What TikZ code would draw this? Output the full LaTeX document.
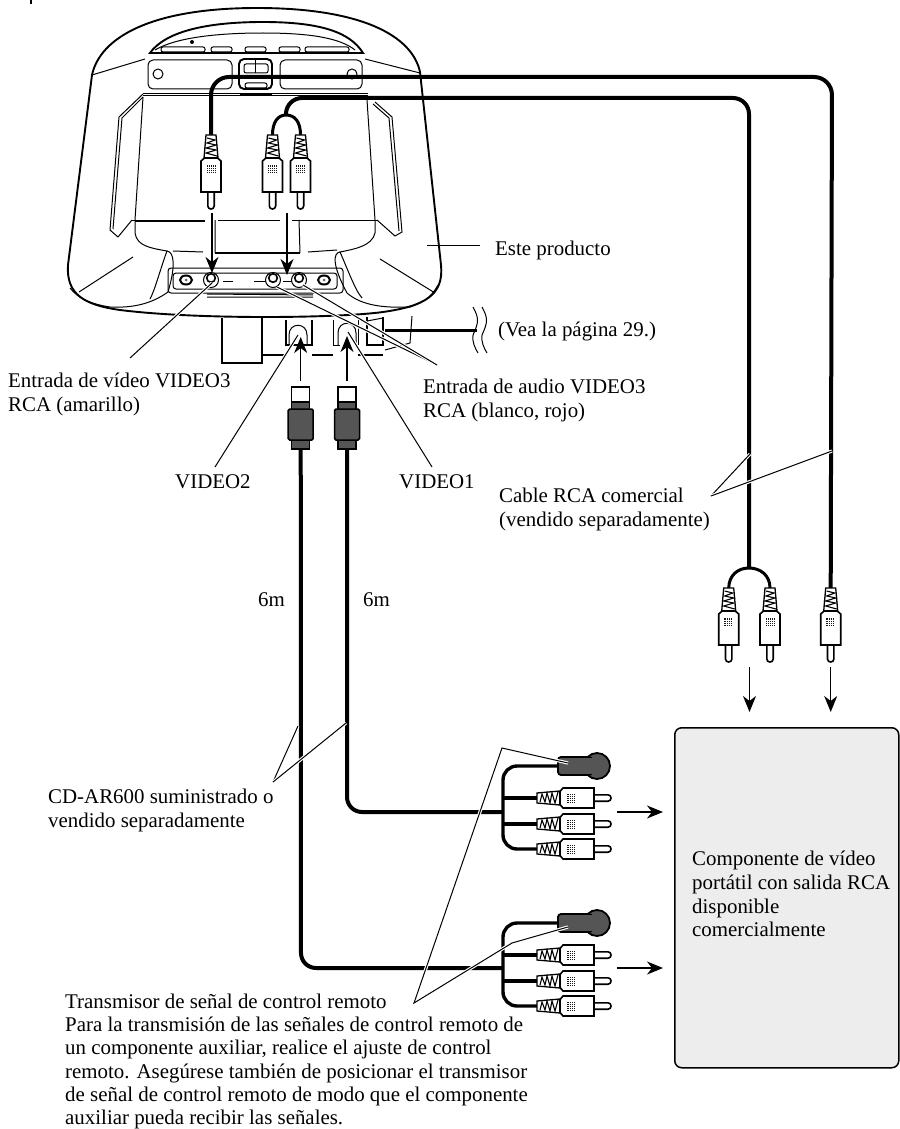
\documentclass[tikz,border=0pt]{standalone}
\usepackage{fontspec}
\setmainfont{Liberation Serif}
\usetikzlibrary{arrows.meta}
\definecolor{plugdark}{HTML}{555555}
\definecolor{boxgrey}{HTML}{EDEDED}
\begin{document}
\begin{tikzpicture}[x=1pt,y=-1pt,
  lbl/.style={anchor=north west, inner sep=0pt, align=left, font=\fontsize{20.9}{23.8}\selectfont},
  cable/.style={line width=4pt},
  fanwire/.style={line width=3.4pt, rounded corners=14pt},
  dev/.style={line width=1pt},
  devheavy/.style={line width=1.9pt},
  leader/.style={line width=1pt, preaction={draw=white, line width=3.2pt}},
  arrowline/.style={line width=1.2pt, -{Stealth[length=16pt,width=13pt,inset=5pt]}},
  rcaplug/.pic={
    \draw[line width=1.3pt, fill=white] (-5,0) -- (5,0) -- (7,23) -- (-7,23) -- cycle;
    \draw[line width=1.1pt] (-4,3) -- (4,5) -- (-4,8) -- (5,10) -- (-5,13) -- (5,15) -- (-5,18) -- (6,21);
    \draw[line width=1.6pt, fill=white] (-3.2,57) -- (-3.2,71) .. controls (-3.2,75) and (3.2,75) .. (3.2,71) -- (3.2,57);
    \draw[line width=1.6pt, fill=white] (-6.5,23) -- (-10,26) -- (-10,57) -- (10,57) -- (10,26) -- (6.5,23) -- cycle;
    \fill[black!90] (-4.5,30) rectangle (4.5,38);
    \foreach \gx in {-3,-1,1,3} {\draw[white, line width=.25pt] (\gx,30) -- (\gx,38);}
    \foreach \gy in {32,34,36} {\draw[white, line width=.25pt] (-4.5,\gy) -- (4.5,\gy);}
  },
  videoplug/.pic={
    \draw[line width=1.5pt, fill=white] (-9,0) rectangle (9,15);
    \draw[line width=1.5pt, fill=plugdark] (-9,15) rectangle (9,62);
    \draw[line width=1.5pt, fill=plugdark, rounded corners=1.5pt] (-12.5,22) rectangle (12.5,53);
  },
  emitter/.pic={
    \draw[line width=1.8pt, fill=plugdark] (39,0) circle[radius=13];
    \draw[line width=1.8pt, fill=plugdark, rounded corners=3pt] (0,-9) rectangle (34,9);
    \fill[plugdark] (29,-8) rectangle (38,8);
  }]
\useasboundingbox (0,0) rectangle (899,1129);
\fill[white] (0,0) rectangle (899,1129);
\draw[line width=2pt] (30.5,0) -- (30.5,4);

\draw[devheavy, fill=white] (92,75) .. controls (100,38) and (150,8) .. (257,8)
  .. controls (360,8) and (412,35) .. (420,72) -- (441,265)
  .. controls (444,295) and (425,306) .. (383,312)
  .. controls (340,318) and (200,320) .. (120,310)
  .. controls (85,305) and (66,295) .. (68,265) -- cycle;
\draw[dev] (92,75) -- (145,59) (365,59) -- (420,73);
\draw[devheavy] (150,53) .. controls (165,32) and (205,22) .. (263,22) .. controls (320,22) and (350,32) .. (363,53) -- cycle;
\draw[dev] (155,50) .. controls (175,38) and (215,33) .. (263,33) .. controls (310,33) and (340,38) .. (355,50);
\foreach \bx/\bw in {161/44,211/21,245/21,279/21,305/44} {
  \draw[dev, rounded corners=2pt] (\bx,47) rectangle ++(\bw,5);}
\fill (192,42) circle[radius=2];
\draw[dev, rounded corners=5pt] (148,60) rectangle (232,89) (280,60) rectangle (362,89);
\draw[devheavy, rounded corners=5pt] (239,59) rectangle (272,89);
\draw[dev, rounded corners=2pt] (244,64) rectangle (268,73) (245,83) rectangle (267,88);
\draw[dev] (255,58) -- (255,73);
\draw[dev] (158,74) circle[radius=5] (352,74) circle[radius=5];
\draw[dev] (143,94) -- (368,94) (143,96) -- (368,96);
\draw[devheavy] (240,95) -- (272,95);
\draw[dev] (143,94) -- (119,117) -- (110,230) -- (118,237) -- (132,220);
\draw[dev] (143,97) -- (122,118) -- (113,229);
\draw[dev] (375,102) -- (392,117) -- (402,232) -- (395,236) -- (377,220);
\draw[dev] (373,104) -- (389,118) -- (399,231);
\draw[dev] (143,97) -- (135,220) (367,100) -- (375,220);
\draw[dev] (132,220) -- (205,220) (218,220) -- (280,220) (292,220) -- (377,220);
\draw[dev] (135,221) -- (205,221);
\draw[dev] (135,220) -- (135,233) .. controls (137,246) and (150,248) .. (167,251) .. controls (160,270) and (155,290) .. (150,299);
\draw[dev] (375,220) -- (375,233) .. controls (372,246) and (355,249) .. (340,252) .. controls (348,270) and (355,290) .. (362,298);
\draw[dev] (167,251) .. controls (174,252) and (176,265) .. (168,292) .. controls (150,305) and (130,308) .. (110,307) .. controls (90,304) and (78,298) .. (70,288);
\draw[dev] (340,252) .. controls (333,253) and (332,265) .. (347,293) .. controls (362,306) and (385,308) .. (410,307) .. controls (425,302) and (432,296) .. (438,285);
\draw[dev] (79,292) -- (133,257) (380,259) -- (435,293);
\draw[dev] (173,251) -- (203,252) (308,252) -- (337,250);
\draw[dev] (215,220) -- (215,253) (299,220) -- (300,253);
\draw[devheavy] (215,253) -- (300,253);
\draw[dev, rounded corners=3pt] (168,268) rectangle (343,293);
\draw[dev, rounded corners=3pt] (173,273) rectangle (337,289);
\draw[dev] (207,294) -- (313,295) (207,297) -- (313,297);
\draw[dev] (223,281) -- (233,281) (254,281) -- (266,281) (283,281) -- (293,281);
\foreach \jx in {186,324} {
  \draw[line width=2pt, fill=white] (\jx,280) circle[x radius=6, y radius=4.5];
  \fill[black!60] (\jx,280) circle[radius=1.5];}
\foreach \jx in {211,273,299} {
  \draw[dev, fill=white] (\jx,280) circle[radius=7.5];
  \draw[line width=1.6pt] (\jx,278) circle[radius=4.3];}
\draw[devheavy, fill=white] (222,318) -- (222,363) -- (262,363) -- (262,318);
\draw[devheavy] (262,355) -- (286,355) (312,355) -- (333,355) (358,355) -- (383,355);
\draw[devheavy] (286,320) -- (286,345) -- (312,345) -- (312,320);
\draw[dev] (333,320) -- (333,345) -- (340,345) (358,320) -- (358,345);
\draw[dev] (289,345) -- (289,335) .. controls (289,322) and (307,322) .. (307,335) -- (307,345);
\draw[dev] (338,345) -- (338,333) .. controls (338,320) and (356,320) .. (356,333) -- (356,345);
\draw[devheavy] (367,317) -- (367,345) -- (383,345) -- (383,317);
\draw[dev] (367,321) -- (383,318);
\draw[dev] (412,316) -- (410,343) -- (385,350);

\foreach \name/\px/\py in {plugya/211/135,plugyb/272.5/135,plugyc/300.5/135,
    plugra/728.7/588,plugrb/770/588,plugrc/830.7/588,
    plugfa/537/798,plugfb/537/824,plugfc/537/849,
    plugga/537/955,pluggb/537/981,pluggc/537/1006,
    svida/300.7/387,svidb/347/387,emita/558/766,emitb/558/923,
    tapyl/286/115,tapyr/749/568} {
  \coordinate (\name) at (\px,\py);}
\draw[cable, rounded corners=18pt] (plugya) |- (832,77) -- (plugrc);
\draw[cable, rounded corners=16pt] (tapyl) |- (749,98) -- (tapyr);
\draw[line width=3pt] (plugyb) .. controls (272.5,122) and (278,115) .. (tapyl);
\draw[line width=3pt] (plugyc) .. controls (300.5,122) and (295,115) .. (tapyl);
\draw[line width=3pt] (plugra) .. controls (729,575) and (738,568) .. (tapyr);
\draw[line width=3pt] (plugrb) .. controls (770,575) and (760,568) .. (tapyr);

\draw[cable, rounded corners=15pt] (svidb) -- (347,812) -- (503,812);
\draw[cable, rounded corners=15pt] (svida) -- (301,968) -- (503,968);
\draw[fanwire] (emita) -- (503,766) -- (503,849) -- (plugfc);
\draw[fanwire] (emitb) -- (503,923) -- (503,1006) -- (pluggc);
\foreach \wire/\wy in {plugfa/798,plugfb/824,plugga/955,pluggb/981} {
  \draw[line width=3.4pt] (503,\wy) -- (\wire);}

\foreach \pn in {plugya,plugyb,plugyc,plugra,plugrb,plugrc} {
  \pic at (\pn) {rcaplug};}
\foreach \pn in {plugfa,plugfb,plugfc,plugga,pluggb,pluggc} {
  \pic[rotate=90] at (\pn) {rcaplug};}
\foreach \pn in {svida,svidb} {
  \pic at (\pn) {videoplug};}
\foreach \pn in {emita,emitb} {
  \pic at (\pn) {emitter};}

\foreach \name/\px/\py in {downa/212/213,downb/287/213,enda/212/273,endb/287/275,
    upa/300.7/381,upb/347/381,tipa/300.7/337,tipb/347/336,
    downc/749.5/667,downd/830.7/667,endc/749.5/712,endd/830.7/712,
    righta/617/812,rightb/617/968,tipc/663/812,tipd/663/968} {
  \coordinate (\name) at (\px,\py);}
\foreach \src/\dst in {downa/enda,downb/endb,upa/tipa,upb/tipb,downc/endc,downd/endd,
    righta/tipc,rightb/tipd} {
  \draw[arrowline] (\src) -- (\dst);}

\node[draw, line width=1.5pt, fill=boxgrey, rounded corners=7pt, minimum width=224pt,
      minimum height=340pt, anchor=north west] (portable) at (674,727) {};
\node[lbl, anchor=north west] (portabletxt) at (692,850.8)
  {Componente de vídeo\\portátil con salida RCA\\disponible\\comercialmente};

\node[lbl] (product) at (495,240.8) {Este producto};
\node[lbl] (pageref) at (498,321.8) {(Vea la página 29.)};
\node[lbl] (vidin) at (8,372.8) {Entrada de vídeo VIDEO3\\RCA (amarillo)};
\node[lbl] (audin) at (423,378.8) {Entrada de audio VIDEO3\\RCA (blanco, rojo)};
\node[lbl] (vidtwo) at (175,474) {VIDEO2};
\node[lbl] (vidone) at (399,474.5) {VIDEO1};
\node[lbl] (rcacable) at (499,487.8) {Cable RCA comercial\\(vendido separadamente)};
\node[lbl] (lena) at (258,592.8) {6m};
\node[lbl] (lenb) at (363,592.8) {6m};
\node[lbl] (cdar) at (48,788.8) {CD-AR600 suministrado o\\vendido separadamente};
\node[lbl, font=\fontsize{20.9}{23.3}\selectfont] (remote) at (65,993.5) {Transmisor de señal de control remoto\\Para la transmisión de las señales de control remoto de\\un componente auxiliar, realice el ajuste de control\\remoto. Asegúrese también de posicionar el transmisor\\de señal de control remoto de modo que el componente\\auxiliar pueda recibir las señales.};

\foreach \name/\px/\py in {apvid/130/358,jackvid/212/283,apaud/437/365,jackl/277/287,jackr/303/285,
    aptwo/215/467,jacktwo/298/335,apone/432/467,jackone/348/332,
    aprca/711/496,rcal/750/454,rcar/832/451,apcd/273/782,cdl/298/726,cdr/346/723,
    apem/414/1003,emu/502/748,emue/568/763,emv/512/943,emve/568/927,
    prodl/427/245,prodr/480/245,wirea/385/330,wireb/477/330} {
  \coordinate (\name) at (\px,\py);}
\draw[line width=3pt] (wirea) -- (wireb);
\foreach \wx in {473,482} {
  \draw[line width=1pt] (\wx,307) .. controls (\wx+6,318) and (\wx+6,322) .. (\wx,335) .. controls (\wx-1,342) and (\wx+2,348) .. (\wx+5,353);}
\foreach \src/\dst in {apvid/jackvid,apaud/jackl,apaud/jackr,aptwo/jacktwo,apone/jackone,
    aprca/rcal,aprca/rcar,apcd/cdl,apcd/cdr} {
  \draw[leader] (\src) -- (\dst);}
\draw[leader] (emue) -- (emu) -- (apem) -- (emv) -- (emve);
\draw[line width=1pt] (prodl) -- (prodr);
\end{tikzpicture}
\end{document}
